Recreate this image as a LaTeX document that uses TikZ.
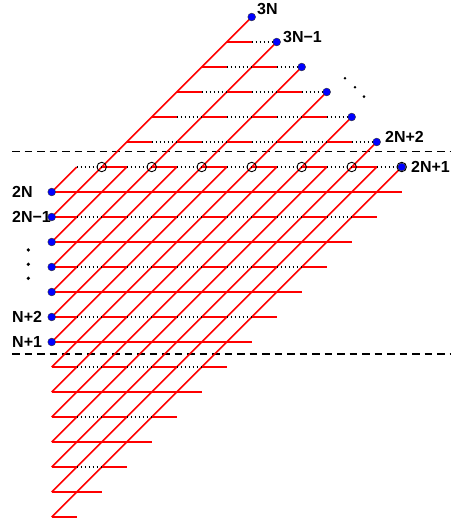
\documentclass[tikz,border=0pt]{standalone}
\usepackage{fontspec}
\setmainfont{Liberation Sans}
\begin{document}
\begin{tikzpicture}[x=1pt,y=1pt,
  bond/.style={red, line width=1.5pt},
  gapline/.style={black, line width=1.1pt, dash pattern=on 1.1pt off 2.9pt},
  cutline/.style={black, line width=1.5pt, dash pattern=on 7.5pt off 5pt},
  site/.style={circle, fill=blue, draw=black!80, line width=0.4pt, inner sep=0pt, minimum size=7.8pt},
  ring/.style={circle, draw=black, line width=0.9pt, inner sep=0pt, minimum size=9.5pt},
  ell/.style={circle, fill=black, inner sep=0pt, minimum size=3.6pt},
  ells/.style={circle, fill=black, inner sep=0pt, minimum size=2.9pt},
  lab/.style={font=\bfseries\fontsize{16}{16}\selectfont, inner sep=0pt}]
\useasboundingbox (0,0) rectangle (451,523);
% lattice points (c,r)
\foreach \r in {0,...,20}{
  \foreach \c in {0,...,14}{
    \coordinate (p\c-\r) at ({51.7+25*\c},{6+25*\r});
  }
}
% dashed cut lines
\coordinate (cutAl) at (12,371.3);
\coordinate (cutAr) at (451,371.3);
\coordinate (cutBl) at (12,169);
\coordinate (cutBr) at (451,169);
\draw[cutline] (cutAl) -- (cutAr);
\draw[cutline] (cutBl) -- (cutBr);
% diagonal lines
\foreach \s in {0,...,13}{
  \ifodd\s
    \pgfmathtruncatemacro{\ec}{14-\s}
    \pgfmathtruncatemacro{\er}{14}
  \else
    \pgfmathtruncatemacro{\ec}{14-\s/2}
    \pgfmathtruncatemacro{\er}{14+\s/2}
  \fi
  \draw[bond] (p0-\s) -- (p\ec-\er);
}
% horizontal rows 0..13
\foreach \r in {0,...,13}{
  \pgfmathtruncatemacro{\e}{\r+1}
  \ifodd\r
    \draw[bond] (p0-\r) -- (p\e-\r);
  \else
    \pgfmathtruncatemacro{\h}{\r/2}
    \foreach \k in {0,...,\h}{
      \pgfmathtruncatemacro{\a}{2*\k}
      \pgfmathtruncatemacro{\b}{2*\k+1}
      \pgfmathtruncatemacro{\cc}{2*\k+2}
      \draw[bond] (p\a-\r) -- (p\b-\r);
      \ifnum\k<\h
        \draw[gapline] (p\b-\r) -- (p\cc-\r);
      \fi
    }
  \fi
}
% row 14
\foreach \k in {1,...,7}{
  \pgfmathtruncatemacro{\a}{2*\k-1}
  \pgfmathtruncatemacro{\b}{2*\k}
  \draw[gapline] (p\a-14) -- (p\b-14);
}
\foreach \k in {1,...,6}{
  \pgfmathtruncatemacro{\a}{2*\k}
  \pgfmathtruncatemacro{\b}{2*\k+1}
  \draw[bond] (p\a-14) -- (p\b-14);
}
% rows 15..19
\foreach \r in {15,...,19}{
  \pgfmathtruncatemacro{\n}{19-\r}
  \foreach \k in {0,...,\n}{
    \pgfmathtruncatemacro{\a}{\r-12+2*\k}
    \pgfmathtruncatemacro{\b}{\r-11+2*\k}
    \pgfmathtruncatemacro{\cc}{\r-10+2*\k}
    \draw[bond] (p\a-\r) -- (p\b-\r);
    \draw[gapline] (p\b-\r) -- (p\cc-\r);
  }
}
% open circles on row 14
\foreach \k in {1,...,6}{
  \pgfmathtruncatemacro{\a}{2*\k}
  \node[ring] (o\a) at (p\a-14) {};
}
\node[ring] (o14) at (p14-14) {};
% blue sites
\foreach \r in {7,...,13}{
  \node[site] (L\r) at (p0-\r) {};
}
\node[site] (T20) at (p8-20) {};
\node[site] (T19) at (p9-19) {};
\node[site] (T18) at (p10-18) {};
\node[site] (T17) at (p11-17) {};
\node[site] (T16) at (p12-16) {};
\node[site] (T15) at (p13-15) {};
\node[site] (T14) at (p14-14) {};
% ellipses
\node[ell] (v1) at (28.3,273) {};
\node[ell] (v2) at (28.3,258.7) {};
\node[ell] (v3) at (28.3,244.7) {};
\node[ells] (g1) at (345,444.7) {};
\node[ells] (g2) at (355,435.7) {};
\node[ells] (g3) at (364,426.3) {};
% labels
\node[lab, anchor=base west] (l3N) at (257,508) {3N};
\node[lab, anchor=base west] (l3N1) at (283,480) {3N−1};
\node[lab, anchor=base west] (l2N2) at (385,380) {2N+2};
\node[lab, anchor=base west] (l2N1) at (411,350) {2N+1};
\node[lab, anchor=base west] (l2N) at (12,325) {2N};
\node[lab, anchor=base west] (l2Nm) at (12,300) {2N−1};
\node[lab, anchor=base west] (lN2) at (12,200) {N+2};
\node[lab, anchor=base west] (lN1) at (12,175) {N+1};
\end{tikzpicture}
\end{document}
